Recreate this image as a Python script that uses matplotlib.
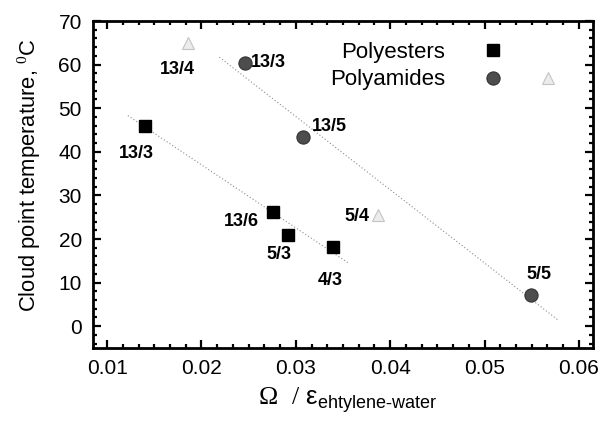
import matplotlib
matplotlib.use("Agg")
import matplotlib.pyplot as plt
from matplotlib.lines import Line2D
from matplotlib.legend_handler import HandlerTuple
from matplotlib.ticker import AutoMinorLocator

plt.rcParams['font.family'] = ['Liberation Sans', 'DejaVu Sans']
plt.rcParams['mathtext.fontset'] = 'custom'
plt.rcParams['mathtext.rm'] = 'Liberation Serif'
plt.rcParams['mathtext.it'] = 'Liberation Sans'
plt.rcParams['mathtext.sf'] = 'Liberation Sans'
plt.rcParams['mathtext.bf'] = 'Liberation Sans:bold'

# ---- data ----
polyester_labels = ["13/3", "13/6", "5/3", "4/3"]
polyester_x = [0.0140, 0.0276, 0.0292, 0.0339]
polyester_y = [46.0, 26.2, 21.0, 18.2]

polyamide_labels = ["13/3", "13/5", "5/5"]
polyamide_x = [0.0246, 0.0308, 0.0549]
polyamide_y = [60.4, 43.3, 7.1]

other_labels = ["13/4", "5/4"]
other_x = [0.0186, 0.0387]
other_y = [64.9, 25.5]

# fitted trend lines (endpoints)
fit_polyester_x = [0.0122, 0.0355]
fit_polyester_y = [48.3, 14.6]
fit_polyamide_x = [0.0219, 0.0578]
fit_polyamide_y = [61.7, 1.4]

xticks = [0.01, 0.02, 0.03, 0.04, 0.05, 0.06]
yticks = [0, 10, 20, 30, 40, 50, 60, 70]

# label offsets (points) for annotations
polyester_off = [(-6, -20), (-23, -7), (-7, -14), (-2, -24)]
polyamide_off = [(17, 0), (19, 8), (6, 15)]
other_off = [(-8, -19), (-15, -1)]

# ---- figure ----
fig = plt.figure(figsize=(6.01, 4.23), dpi=100)
ax = fig.add_axes([0.1547, 0.1773, 0.832, 0.773])

sq_color = "#000000"
ci_color = "#4d4d4d"
tr_color = "#c4c4c4"
fit_color = "#8c8c8c"

ax.plot(fit_polyester_x, fit_polyester_y, color=fit_color, lw=0.8,
        ls=(0, (1, 2)), zorder=1)
ax.plot(fit_polyamide_x, fit_polyamide_y, color=fit_color, lw=0.8,
        ls=(0, (1, 2)), zorder=1)

ax.plot(polyester_x, polyester_y, ls='none', marker='s', ms=9,
        mfc=sq_color, mec=sq_color, zorder=3)
ax.plot(polyamide_x, polyamide_y, ls='none', marker='o', ms=9.5,
        mfc=ci_color, mec="#333333", mew=0.8, zorder=3)
ax.plot(other_x, other_y, ls='none', marker='^', ms=8,
        mfc="#ececec", mec=tr_color, mew=0.8, zorder=3)

lab_kw = dict(fontsize=13, fontweight='bold', ha='center', va='center',
              textcoords='offset points')
for lab, x, y, off in zip(polyester_labels, polyester_x, polyester_y, polyester_off):
    ax.annotate(lab, (x, y), xytext=off, **lab_kw)
for lab, x, y, off in zip(polyamide_labels, polyamide_x, polyamide_y, polyamide_off):
    ax.annotate(lab, (x, y), xytext=off, **lab_kw)
for lab, x, y, off in zip(other_labels, other_x, other_y, other_off):
    ax.annotate(lab, (x, y), xytext=off, **lab_kw)

ax.set_xlim(0.0085, 0.0615)
ax.set_ylim(-5, 70)
ax.set_xticks(xticks)
ax.set_xticklabels([f"{t:.2f}" for t in xticks])
ax.set_yticks(yticks)
ax.xaxis.set_minor_locator(AutoMinorLocator(6))
ax.yaxis.set_minor_locator(AutoMinorLocator(5))
ax.tick_params(which='both', direction='in', top=True, right=True, width=1.6)
ax.tick_params(which='major', length=6, labelsize=15, pad=8)
ax.tick_params(which='minor', length=3)
for s in ax.spines.values():
    s.set_linewidth(2)

ax.set_ylabel("Cloud point temperature, $^{0}$C", fontsize=15.8)
ax.yaxis.set_label_coords(-0.100, 0.53)
ax.set_xlabel(r"$\Omega\ \ /\ \varepsilon_{\mathsf{ehtylene\text{-}water}}$", fontsize=18.5)
ax.xaxis.set_label_coords(0.51, -0.115)

# legend
h_sq = Line2D([], [], ls='none', marker='s', ms=9, mfc=sq_color, mec=sq_color)
h_none = Line2D([], [], ls='none', marker='None')
h_ci = Line2D([], [], ls='none', marker='o', ms=9.5, mfc=ci_color, mec="#333333", mew=0.8)
h_tr = Line2D([], [], ls='none', marker='^', ms=8, mfc="#ececec", mec=tr_color, mew=0.8)
leg = ax.legend([(h_sq, h_none), (h_ci, h_tr)], ["Polyesters", "Polyamides"],
                handler_map={tuple: HandlerTuple(ndivide=None, pad=0)},
                markerfirst=False, frameon=False, fontsize=16,
                handlelength=4.9, handletextpad=0.95, labelspacing=0.3,
                loc='upper left', bbox_to_anchor=(0.474, 0.937),
                borderaxespad=0, borderpad=0)

fig.savefig("out.png", dpi=100)
